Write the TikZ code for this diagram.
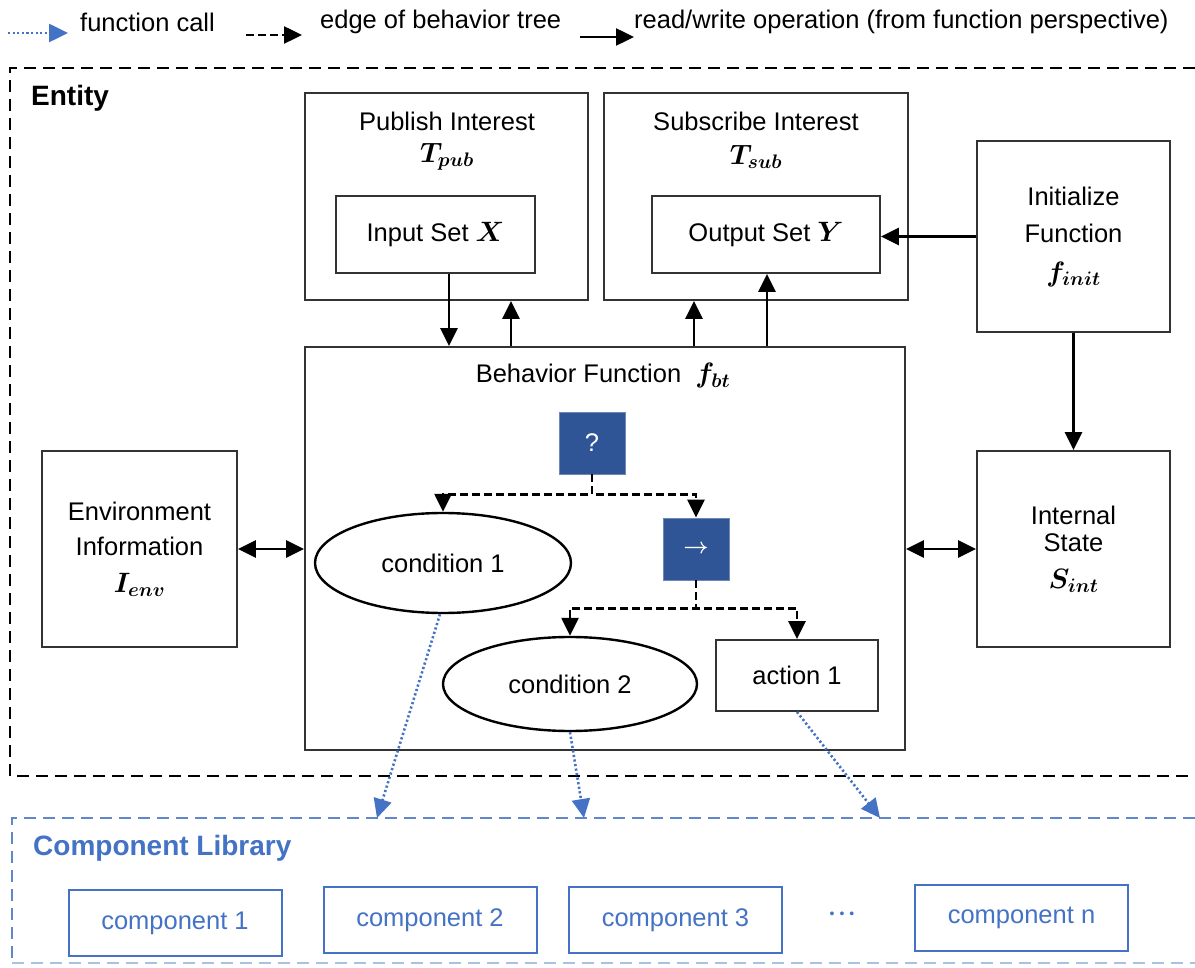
\RequirePackage{fix-cm}
\documentclass[tikz,border=0pt]{standalone}
\usepackage{fontspec}
\setmainfont{Liberation Sans}
\usepackage{bm}
\usetikzlibrary{arrows.meta,shapes.geometric}
\definecolor{treeblue}{HTML}{2F5597}
\definecolor{libblue}{HTML}{4472C4}
\newcommand\mytxt{\fontsize{25.5}{31}\selectfont}
\newcommand\mylegend{\fontsize{25.5}{31}\selectfont}
\newcommand\mybold{\fontsize{28}{33}\selectfont\bfseries}
\newcommand\mm[1]{{\fontsize{28}{30}\selectfont$\bm{#1}$}}
\tikzset{
  box/.style={draw=black!80, line width=1.8pt, rectangle, inner sep=0pt, align=center},
  ell/.style={draw=black, line width=2.4pt, ellipse, inner sep=0pt, align=center},
  tnode/.style={fill=treeblue, draw=treeblue!70, line width=0.8pt, inner sep=0pt, text=white,
     minimum width=66pt, minimum height=62pt},
  lbl/.style={inner sep=0pt, align=center},
  rw/.style={line width=2.5pt, -{Triangle[length=18pt,width=17pt]}},
  rwboth/.style={line width=2.5pt, {Triangle[length=18pt,width=17pt]}-{Triangle[length=18pt,width=17pt]}},
  treeedge/.style={line width=2.5pt, dash pattern=on 8pt off 4pt, -{Triangle[length=18pt,width=17pt]}},
  fcall/.style={libblue, line width=2.6pt, dash pattern=on 2.2pt off 2.4pt, -{Triangle[length=19pt,width=18pt]}},
  comp/.style={draw=libblue, line width=2pt, inner sep=0pt, text=libblue,
     minimum width=213pt, minimum height=66pt},
}
\begin{document}
\begin{tikzpicture}[x=1pt,y=-1pt,font=\mytxt]
\useasboundingbox (0,0) rectangle (1195,968);

% legend
\coordinate (lg1a) at (8,33);  \coordinate (lg1b) at (68,33);
\coordinate (lg2a) at (246,35); \coordinate (lg2b) at (302,35);
\coordinate (lg3a) at (580,37); \coordinate (lg3b) at (634,37);
\draw[fcall] (lg1a) -- (lg1b);
\node[lbl, anchor=west, font=\mylegend] (lgt1) at (80,22) {function call};
\draw[treeedge] (lg2a) -- (lg2b);
\node[lbl, anchor=west, font=\mylegend] (lgt2) at (320,22) {edge of behavior tree};
\draw[rw] (lg3a) -- (lg3b);
\node[lbl, anchor=west, font=\mylegend] (lgt3) at (634,22) {read/write operation (from function perspective)};

% entity frame
\draw[line width=2.4pt, dash pattern=on 12pt off 7pt] (1195,68) -- (10,68) -- (10,776) -- (1195,776);
\node[lbl, anchor=west, font=\mybold] (entity) at (31,98) {Entity};

% component library frame
\draw[libblue!85, line width=2.4pt, dash pattern=on 12pt off 7pt] (1195,818) -- (12,818) -- (12,963);
\draw[libblue!45, line width=2.4pt, dash pattern=on 12pt off 7pt] (12,963) -- (1195,963);
\node[lbl, anchor=west, font=\mybold, text=libblue] (complib) at (33,848) {Component Library};
\node[comp] (comp1) at (175,923) {component 1};
\node[comp] (comp2) at (430,920) {component 2};
\node[comp] (comp3) at (675.5,920) {component 3};
\node[lbl, text=libblue] (dots) at (842,915) {\fontsize{14}{16}\selectfont\textbullet\hspace{5pt}\textbullet\hspace{5pt}\textbullet};
\node[comp] (compn) at (1021.5,917.5) {component n};

% publish / subscribe
\node[box, minimum width=283pt, minimum height=207pt] (pub) at (446.5,196.5) {};
\node[lbl] (pubtitle) at (447,121) {Publish Interest};
\node[lbl] (pubT) at (447,157) {\mm{T_{pub}}};
\node[box, minimum width=199pt, minimum height=77pt] (inset) at (435.5,234.5) {Input Set \mm{X}};

\node[box, minimum width=304pt, minimum height=207pt] (sub) at (756,196.5) {};
\node[lbl] (subtitle) at (756,121) {Subscribe Interest};
\node[lbl] (subT) at (756,157) {\mm{T_{sub}}};
\node[box, minimum width=228pt, minimum height=77pt] (outset) at (766,234.5) {Output Set \mm{Y}};

\node[box, minimum width=193pt, minimum height=191pt] (init) at (1073.5,236.5)
  {Initialize\\[6pt]Function\\[8pt]\mm{f_{init}}};

% behavior function
\node[box, minimum width=600pt, minimum height=403pt] (bf) at (605,548.5) {};
\node[lbl] (bftitle) at (603,376) {Behavior Function \ \mm{f_{bt}}};
\node[tnode] (sel) at (592,443) {?};
\node[tnode] (seq) at (696,549) {\fontsize{22}{24}\selectfont$\bm\rightarrow$};
\node[ell, minimum width=256pt, minimum height=100pt] (c1) at (443,563) {condition 1};
\node[ell, minimum width=254pt, minimum height=94pt] (c2) at (570,684) {condition 2};
\node[box, minimum width=162pt, minimum height=71pt] (a1) at (797,675.5) {action 1};

\draw[treeedge] (sel.south) -- ++(0,20) -| (c1.north);
\draw[treeedge] (sel.south) -- ++(0,20) -| (seq.north);
\draw[treeedge] (seq.south) -- ++(0,28) -| (c2.north);
\draw[treeedge] (seq.south) -- ++(0,28) -| (a1.north);

% side boxes
\node[box, minimum width=195pt, minimum height=196pt] (env) at (139.5,549)
  {Environment\\[4pt]Information\\[6pt]\mm{I_{env}}};
\node[box, minimum width=193pt, minimum height=196pt] (state) at (1073.5,549)
  {Internal\\[-4pt]State\\[6pt]\mm{S_{int}}};

% read/write arrows
\draw[rw] ([xshift=-156pt]bf.north |- inset.south) -- ([xshift=-156pt]bf.north);
\draw[rw] ([xshift=-94pt]bf.north) -- ([xshift=-94pt]bf.north |- pub.south);
\draw[rw] ([xshift=89pt]bf.north) -- ([xshift=89pt]bf.north |- sub.south);
\draw[rw] ([xshift=162pt]bf.north) -- ([xshift=162pt]bf.north |- outset.south);
\draw[rw] (init.west) -- (init.west -| outset.east);
\draw[rw] (init.south) -- (state.north);
\draw[rwboth] (env.east) -- (env.east -| bf.west);
\draw[rwboth] (state.west -| bf.east) -- (state.west);

% function calls
\coordinate (lib1) at (377,818);
\coordinate (lib2) at (584,818);
\coordinate (lib3) at (880,818);
\draw[fcall] ([xshift=-3pt]c1.south) -- (lib1);
\draw[fcall] (c2.south) -- (lib2);
\draw[fcall] (a1.south) -- (lib3);
\end{tikzpicture}
\end{document}
